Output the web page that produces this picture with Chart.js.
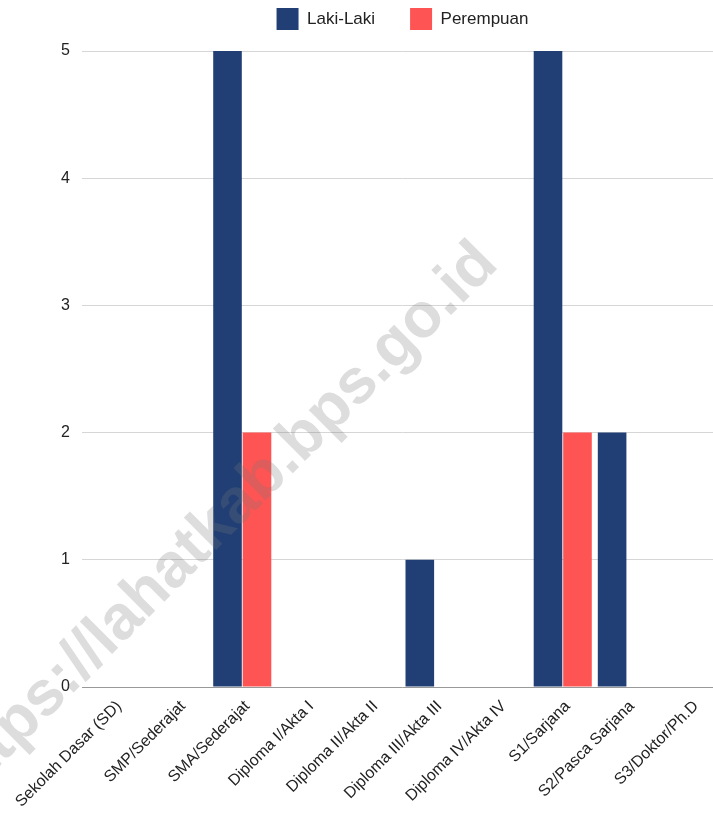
<!DOCTYPE html>
<html>
<head>
<meta charset="utf-8">
<script src="https://cdn.jsdelivr.net/npm/chart.js@4"></script>
<style>
  html, body { margin: 0; padding: 0; background: #fff; overflow: hidden; }
  .wrap { position: absolute; left: 0; top: -27px; width: 723px; height: 846px; }
</style>
</head>
<body>
<div class="wrap"><canvas id="chart"></canvas></div>
<script>
// data
const categories = [
    'Sekolah Dasar (SD)',
    'SMP/Sederajat',
    'SMA/Sederajat',
    'Diploma I/Akta I',
    'Diploma II/Akta II',
    'Diploma III/Akta III',
    'Diploma IV/Akta IV',
    'S1/Sarjana',
    'S2/Pasca Sarjana',
    'S3/Doktor/Ph.D'
];
const lakiLaki = [0, 0, 5, 0, 0, 1, 0, 5, 2, 0];
const perempuan = [0, 0, 2, 0, 0, 0, 0, 2, 0, 0];
const yTicks = [0, 1, 2, 3, 4, 5];
const seriesNames = ['Laki-Laki', 'Perempuan'];
const watermark = 'https://lahatkab.bps.go.id';

Chart.defaults.font.family = '"Liberation Sans", Arial, sans-serif';
Chart.defaults.color = '#222';

// extra space under the legend
const legendGap = {
    id: 'legendGap',
    beforeInit(chart) {
        const fit = chart.legend.fit;
        chart.legend.fit = function () {
            fit.bind(chart.legend)();
            this.height += 11;
        };
    }
};

// diagonal watermark
const stamp = {
    id: 'stamp',
    afterDraw(chart) {
        const ctx = chart.ctx;
        ctx.save();
        ctx.translate(500, 293);
        ctx.rotate(-45 * Math.PI / 180);
        ctx.font = 'bold 63px "Liberation Sans", Arial, sans-serif';
        ctx.fillStyle = 'rgba(120,120,120,0.25)';
        ctx.textAlign = 'right';
        ctx.textBaseline = 'alphabetic';
        ctx.fillText(watermark, 0, 0);
        ctx.restore();
    }
};

new Chart(document.getElementById('chart'), {
    type: 'bar',
    data: {
        labels: categories,
        datasets: [
            {
                label: seriesNames[0],
                data: lakiLaki,
                backgroundColor: '#213f75',
                borderWidth: 0
            },
            {
                label: seriesNames[1],
                data: perempuan,
                backgroundColor: '#ff5454',
                borderWidth: 0
            }
        ]
    },
    options: {
        responsive: true,
        maintainAspectRatio: false,
        animation: false,
        categoryPercentage: 0.92,
        barPercentage: 0.97,
        layout: { padding: 0 },
        plugins: {
            tooltip: { enabled: false },
            legend: {
                position: 'top',
                fullSize: false,
                labels: {
                    boxWidth: 22,
                    boxHeight: 22,
                    padding: 35,
                    color: '#222',
                    font: { size: 17 }
                }
            }
        },
        scales: {
            x: {
                grid: { display: false },
                border: { display: false },
                ticks: {
                    autoSkip: false,
                    maxRotation: 45,
                    minRotation: 45,
                    padding: 2,
                    labelOffset: 5,
                    color: '#222',
                    font: { size: 16 }
                },
                afterFit(scale) {
                    scale.height = 132;
                }
            },
            y: {
                min: yTicks[0],
                max: yTicks[yTicks.length - 1],
                border: { display: false },
                grid: {
                    drawTicks: false,
                    color: (c) => c.tick.value === 0 ? '#999' : '#d6d6d6'
                },
                ticks: {
                    stepSize: 1,
                    padding: 12,
                    color: '#222',
                    font: { size: 16 }
                },
                afterFit(scale) {
                    scale.width = 82;
                }
            }
        }
    },
    plugins: [legendGap, stamp]
});
</script>
</body>
</html>
